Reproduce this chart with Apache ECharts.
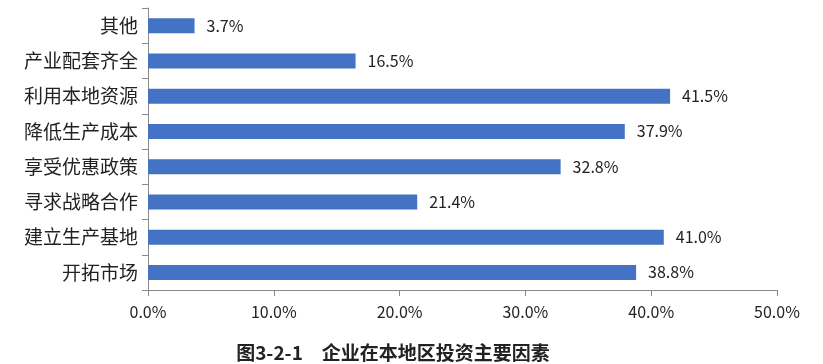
<!DOCTYPE html>
<html><head><meta charset="utf-8">
<script src="https://cdn.jsdelivr.net/npm/echarts@6/dist/echarts.min.js"></script>
<style>html,body{margin:0;padding:0;background:#fff}#c{width:823px;height:364px}</style>
</head><body><div id="c"></div>
<script>
var categories = ['开拓市场','建立生产基地','寻求战略合作','享受优惠政策','降低生产成本','利用本地资源','产业配套齐全','其他'];
var values = [38.8, 41.0, 21.4, 32.8, 37.9, 41.5, 16.5, 3.7];
var xTicks = [0, 10, 20, 30, 40, 50];
var title = '图3-2-1　企业在本地区投资主要因素';
var font = '"Noto Sans CJK SC", sans-serif';
var chart = echarts.init(document.getElementById('c'));
chart.setOption({
  animation: false,
  backgroundColor: '#fff',
  title: {
    text: title, left: 388, top: 337, textAlign: 'center',
    textStyle: {fontFamily: font, fontSize: 19, fontWeight: 'bold', color: '#222', lineHeight: 22}
  },
  grid: {left: 148, right: 46, top: 8, bottom: 74, containLabel: false},
  xAxis: {
    type: 'value', min: xTicks[0], max: xTicks[xTicks.length-1], interval: 10,
    splitLine: {show: false},
    axisLine: {show: true, lineStyle: {color: '#888', width: 1}},
    axisTick: {show: true, length: 6, lineStyle: {color: '#888'}},
    axisLabel: {margin: 14, color: '#222', fontFamily: font, fontSize: 16,
      formatter: function(v){return v.toFixed(1)+'%';}}
  },
  yAxis: {
    type: 'category', data: categories,
    axisLine: {show: true, lineStyle: {color: '#888', width: 1}},
    axisTick: {show: true, length: 6, lineStyle: {color: '#888'}},
    axisLabel: {margin: 10, color: '#222', fontFamily: font, fontSize: 19}
  },
  series: [{
    type: 'bar', data: values, barWidth: 15,
    itemStyle: {color: '#4472C4'},
    label: {show: true, position: 'right', distance: 12, color: '#222',
      fontFamily: font, fontSize: 16,
      formatter: function(p){return p.value.toFixed(1)+'%';}}
  }]
});
</script></body></html>
